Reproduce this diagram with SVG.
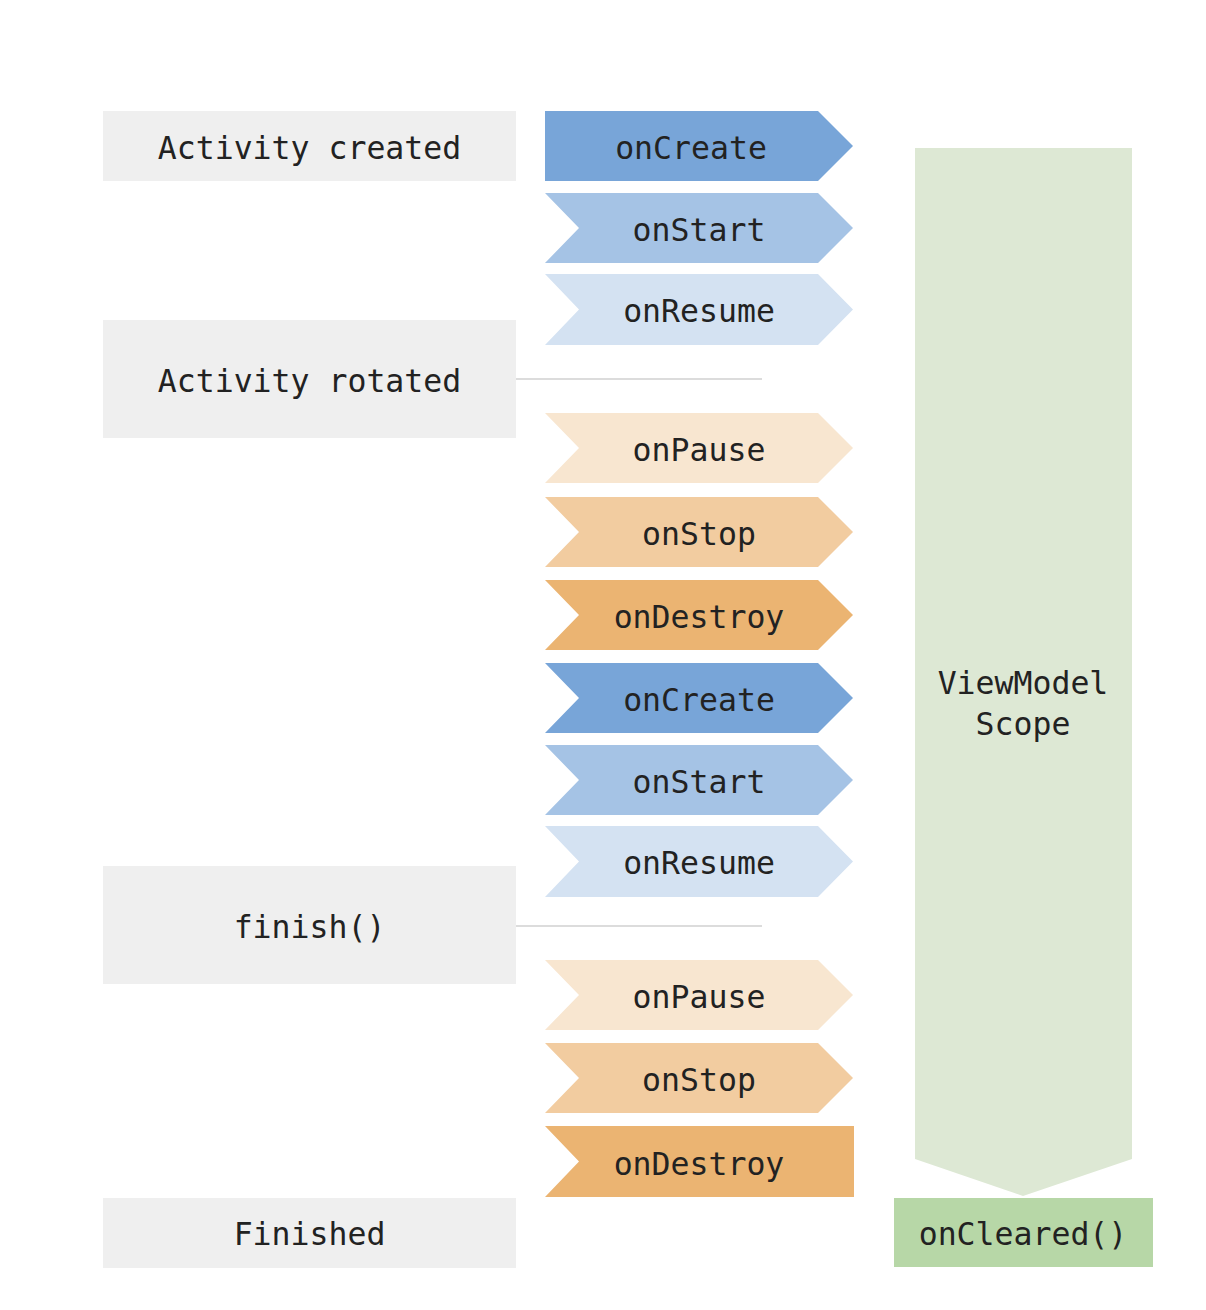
<svg xmlns="http://www.w3.org/2000/svg" width="1206" height="1310" viewBox="0 0 1206 1310">
<style>
text{font-family:"DejaVu Sans Mono","Liberation Mono",monospace;font-size:31.5px;fill:#222;text-anchor:middle}
.gray{fill:#efefef}
.c1{fill:#78a5d8}.c2{fill:#a5c3e5}.c3{fill:#d4e2f2}
.o1{fill:#f8e6d0}.o2{fill:#f2cca0}.o3{fill:#ebb472}
.conn{stroke:#dcdcdc;stroke-width:2;fill:none}
</style>
<rect width="1206" height="1310" fill="#fff"/>
<g id="connectors">
<line class="conn" x1="516" y1="379" x2="762" y2="379"/>
<line class="conn" x1="516" y1="926" x2="762" y2="926"/>
</g>
<g id="activity-created"><rect class="gray" x="103" y="111" width="413" height="70"/><text x="309.5" y="159">Activity created</text></g>
<g id="activity-rotated"><rect class="gray" x="103" y="320" width="413" height="118"/><text x="309.5" y="392">Activity rotated</text></g>
<g id="finish"><rect class="gray" x="103" y="866" width="413" height="118"/><text x="309.5" y="938">finish()</text></g>
<g id="finished"><rect class="gray" x="103" y="1198" width="413" height="70"/><text x="309.5" y="1245">Finished</text></g>

<g id="oncreate-1"><polygon class="c1" points="545,111 818,111 853,146 818,181 545,181"/><text x="691" y="159">onCreate</text></g>
<g id="onstart-1"><polygon class="c2" points="545,193 818,193 853,228 818,263 545,263 579,228"/><text x="699" y="241">onStart</text></g>
<g id="onresume-1"><polygon class="c3" points="545,274 818,274 853,309.5 818,345 545,345 579,309.5"/><text x="699" y="322">onResume</text></g>
<g id="onpause-1"><polygon class="o1" points="545,413 818,413 853,448 818,483 545,483 579,448"/><text x="699" y="461">onPause</text></g>
<g id="onstop-1"><polygon class="o2" points="545,497 818,497 853,532 818,567 545,567 579,532"/><text x="699" y="545">onStop</text></g>
<g id="ondestroy-1"><polygon class="o3" points="545,580 818,580 853,615 818,650 545,650 579,615"/><text x="699" y="628">onDestroy</text></g>
<g id="oncreate-2"><polygon class="c1" points="545,663 818,663 853,698 818,733 545,733 579,698"/><text x="699" y="711">onCreate</text></g>
<g id="onstart-2"><polygon class="c2" points="545,745 818,745 853,780 818,815 545,815 579,780"/><text x="699" y="793">onStart</text></g>
<g id="onresume-2"><polygon class="c3" points="545,826 818,826 853,861.5 818,897 545,897 579,861.5"/><text x="699" y="874">onResume</text></g>
<g id="onpause-2"><polygon class="o1" points="545,960 818,960 853,995 818,1030 545,1030 579,995"/><text x="699" y="1008">onPause</text></g>
<g id="onstop-2"><polygon class="o2" points="545,1043 818,1043 853,1078 818,1113 545,1113 579,1078"/><text x="699" y="1091">onStop</text></g>
<g id="ondestroy-2"><polygon class="o3" points="545,1126 854,1126 854,1197 545,1197 579,1161.5"/><text x="699" y="1175">onDestroy</text></g>

<g id="viewmodel-scope"><polygon fill="#dde8d4" points="915,148 1132,148 1132,1159 1023,1196 915,1159"/><text x="1023" y="694">ViewModel</text><text x="1023" y="735">Scope</text></g>
<g id="oncleared"><rect fill="#b7d7a7" x="894" y="1198" width="259" height="69"/><text x="1023" y="1245">onCleared()</text></g>
</svg>
